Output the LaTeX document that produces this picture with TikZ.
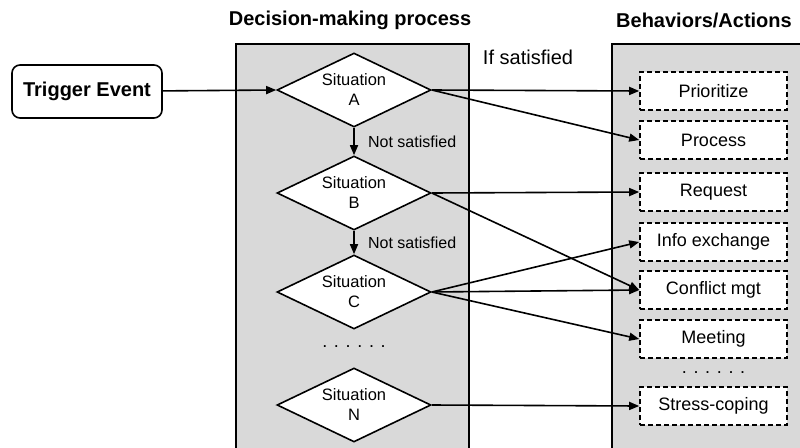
\documentclass[tikz,border=0pt]{standalone}
\usepackage{fontspec}
\setmainfont{Liberation Sans}
\usetikzlibrary{shapes.geometric,arrows.meta}

\begin{document}
\begin{tikzpicture}[%
  x=1pt, y=-1pt,
  panel/.style={draw, line width=1.6pt, fill=gray!30},
  sit/.style={diamond, shape aspect=2.08, draw, fill=white, line width=1.6pt,
    inner sep=0pt, minimum width=154pt, minimum height=74pt, align=center,
    font=\fontsize{16.5}{20}\selectfont},
  act/.style={draw, dash pattern=on 5pt off 3pt, fill=white, line width=1.6pt,
    minimum width=147pt, minimum height=38pt, inner sep=0pt,
    font=\fontsize{18}{21}\selectfont},
  trig/.style={draw, rounded corners=8pt, line width=1.6pt,
    minimum width=150pt, minimum height=53pt,
    font=\fontsize{20}{24}\selectfont\bfseries},
  ttl/.style={font=\fontsize{20}{24}\selectfont\bfseries},
  nlabel/.style={font=\fontsize{16}{19}\selectfont},
  dotrow/.style={font=\fontsize{18}{21}\selectfont},
  arr/.style={line width=1.6pt, -{Triangle[length=10pt,width=8pt]}}]
\useasboundingbox (0,0) rectangle (800,447);
\draw[panel] (236,44) rectangle (469,455);
\draw[panel] (612,44) rectangle (808,455);

\node[ttl] (dtitle) at (350,20) {Decision-making process};
\node[ttl] (btitle) at (704,20) {Behaviors/Actions};
\node[font=\fontsize{20}{24}\selectfont] (ifsat) at (528,57) {If satisfied};

\node[trig] (trigger) at (87,91.5) {Trigger Event};

\node[sit] (sa) at (354,90) {Situation\\A};
\node[sit] (sb) at (354,193) {Situation\\B};
\node[sit] (sc) at (354,292) {Situation\\C};
\node[sit] (sn) at (354,405) {Situation\\N};
\node[dotrow] (ldots) at (354,347) {. . . . . .};

\node[act] (prio) at (713.5,91) {Prioritize};
\node[act] (proc) at (713.5,140) {Process};
\node[act] (req) at (713.5,192) {Request};
\node[act] (info) at (713.5,242) {Info exchange};
\node[act] (conf) at (713.5,290) {Conflict mgt};
\node[act] (meet) at (713.5,339) {Meeting};
\node[dotrow] (rdots) at (713.5,373) {. . . . . .};
\node[act] (stress) at (713.5,406) {Stress-coping};

\draw[arr] (trigger) -- (sa.west);
\draw[arr] (sa.south) -- node[nlabel, right=10pt] {Not satisfied} (sb.north);
\draw[arr] (sb.south) -- node[nlabel, right=10pt] {Not satisfied} (sc.north);

\draw[arr] (sa.east) -- (prio.west);
\draw[arr] (sa.east) -- (proc.west);
\draw[arr] (sb.east) -- (req.west);
\draw[arr] (sb.east) -- (conf.west);
\draw[arr] (sc.east) -- (info.west);
\draw[arr] (sc.east) -- (conf.west);
\draw[arr] (sc.east) -- (meet.west);
\draw[arr] (sn.east) -- (stress.west);
\end{tikzpicture}
\end{document}
